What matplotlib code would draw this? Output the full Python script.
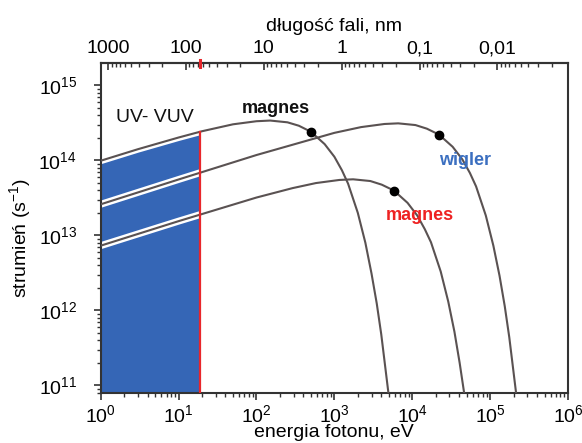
import matplotlib
matplotlib.use("Agg")
import matplotlib.pyplot as plt
from matplotlib.patches import Rectangle
from matplotlib.ticker import FixedLocator, FixedFormatter, LogLocator, NullFormatter

plt.rcParams['font.family'] = ['Liberation Sans', 'DejaVu Sans']
plt.rcParams['mathtext.default'] = 'regular'

# Photon flux spectra (energy in eV, flux in 1/s)
magnes_e = [1, 3, 10, 20, 50, 100, 150, 250, 350, 500, 750, 1000, 1250, 1500, 2000, 2500, 3000, 3500, 4000, 5000]
magnes_f = [9.9e13, 1.41e14, 2.02e14, 2.45e14, 3.03e14, 3.33e14, 3.40e14, 3.22e14, 2.9e14, 2.41e14,
            1.65e14, 1.12e14, 7.4e13, 4.9e13, 2.0e13, 8.0e12, 3.1e12, 1.24e12, 4.8e11, 7.2e10]

wigler_e = [1, 10, 100, 1000, 2200, 4400, 6600, 11000, 15400, 22000, 33000, 44000, 55000, 66000,
            88000, 110000, 132000, 154000, 176000, 220000]
wigler_f = [2.6e13, 5.57e13, 1.18e14, 2.33e14, 2.78e14, 3.06e14, 3.12e14, 2.96e14, 2.65e14, 2.21e14,
            1.52e14, 1.03e14, 6.8e13, 4.5e13, 1.84e13, 7.3e12, 2.9e12, 1.14e12, 4.4e11, 6.6e10]

magnes2_e = [1, 10, 100, 290, 580, 1160, 1740, 2900, 4060, 5800, 8700, 11600, 14500, 17400,
             23200, 29000, 34800, 40600, 46400, 58000]
magnes2_f = [7.3e12, 1.55e13, 3.2e13, 4.27e13, 4.99e13, 5.49e13, 5.6e13, 5.31e13, 4.75e13, 3.97e13,
             2.72e13, 1.84e13, 1.21e13, 8.1e12, 3.3e12, 1.31e12, 5.2e11, 2.0e11, 7.9e10, 1.2e10]

# Critical-energy markers
crit_e = [500, 22000, 5800]
crit_f = [2.41e14, 2.21e14, 3.97e13]

uv_limit = 19  # eV, upper edge of the UV-VUV band

wavelength_ticks = [1000, 100, 10, 1, 0.1, 0.01]
wavelength_labels = ['1000', '100', '10', '1', '0,1', '0,01']
HC = 1239.84  # eV*nm

YMIN, YMAX = 10**10.9, 10**15.3

fig = plt.figure(figsize=(5.82, 4.43), dpi=100)
ax = fig.add_axes([0.173, 0.113, 0.803, 0.745])
ax.set_xscale('log')
ax.set_yscale('log')
ax.set_xlim(1, 1e6)
ax.set_ylim(YMIN, YMAX)

curve_col = '#5a5252'
blue = '#3566b6'

# UV-VUV band filled up to the top spectrum
clip = Rectangle((1, YMIN), uv_limit - 1, YMAX - YMIN, transform=ax.transData)
fill = ax.fill_between(magnes_e, YMIN, magnes_f, color=blue, lw=0, zorder=1)
fill.set_clip_path(clip)

for e, f in [(magnes_e, magnes_f), (wigler_e, wigler_f), (magnes2_e, magnes2_f)]:
    halo, = ax.plot(e, f, color='white', lw=5, zorder=2, solid_capstyle='butt')
    halo.set_clip_path(clip)
    ax.plot(e, f, color=curve_col, lw=1.5, zorder=3)

ax.plot(crit_e, crit_f, 'o', color='black', ms=6, zorder=4)

# Red boundary of the UV-VUV band
top_at_limit = 2.42e14
ax.plot([uv_limit, uv_limit], [YMIN, top_at_limit], color='#e8262b', lw=1.6, zorder=5)
ax.plot([uv_limit, uv_limit], [YMAX / 1.12, YMAX * 1.1], color='#e8262b', lw=2.2, zorder=6, clip_on=False)

ax.text(4.98, 3.7e14, 'UV- VUV', fontsize=14, ha='center', va='center', color='#111111')
ax.text(178, 4.9e14, 'magnes', fontsize=13, ha='center', va='center', fontweight='bold', color='#111111')
ax.text(47500, 1.0e14, 'wigler', fontsize=13, ha='center', va='center', fontweight='bold', color='#3b6fc0')
ax.text(12560, 1.85e13, 'magnes', fontsize=13, ha='center', va='center', fontweight='bold', color='#ee2222')

for s in ax.spines.values():
    s.set_color('#333333')
    s.set_linewidth(1.5)

ax.xaxis.set_major_locator(LogLocator(base=10, numticks=10))
ax.xaxis.set_minor_locator(LogLocator(base=10, subs=range(2, 10), numticks=20))
ax.xaxis.set_minor_formatter(NullFormatter())
ax.yaxis.set_major_locator(LogLocator(base=10, numticks=10))
ax.yaxis.set_minor_locator(LogLocator(base=10, subs=range(2, 10), numticks=20))
ax.yaxis.set_minor_formatter(NullFormatter())
ax.tick_params(which='both', direction='out', color='#333333', labelsize=14)
ax.tick_params(which='major', length=5, width=1.2)
ax.tick_params(which='minor', length=3, width=1)
ax.tick_params(axis='x', which='major', pad=3)
ax.tick_params(axis='y', which='major', pad=12)
ax.tick_params(axis='x', which='both', top=False)

ax.set_xlabel('energia fotonu, eV', fontsize=14)
ax.xaxis.set_label_coords(0.5, -0.094)
ax.set_ylabel('strumień (s$^{-1}$)', fontsize=14)
ax.yaxis.set_label_coords(-0.145, 0.47)

sec = ax.secondary_xaxis('top', functions=(lambda e: HC / e, lambda l: HC / l))
sec.xaxis.set_major_locator(FixedLocator(wavelength_ticks))
sec.xaxis.set_major_formatter(FixedFormatter(wavelength_labels))
sec.xaxis.set_minor_locator(LogLocator(base=10, subs=range(2, 10), numticks=20))
sec.xaxis.set_minor_formatter(NullFormatter())
sec.tick_params(which='both', direction='in', color='#333333', labelsize=14)
sec.tick_params(which='major', length=5, width=1.2, pad=4)
sec.tick_params(which='minor', length=3, width=1)
sec.spines['top'].set_color('#333333')
sec.spines['top'].set_linewidth(1.5)
sec.set_xlabel('długość fali, nm', fontsize=14, labelpad=7)

fig.savefig('out.png', dpi=100, facecolor='white')
